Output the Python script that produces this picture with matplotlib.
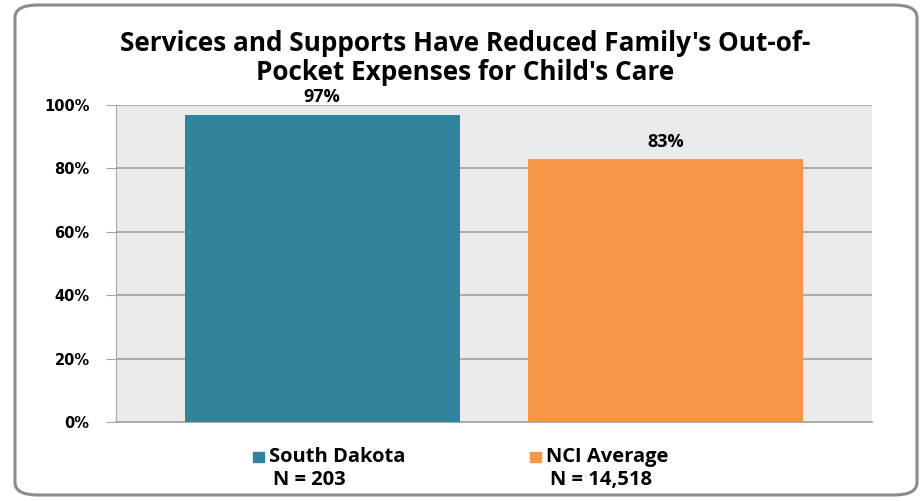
import matplotlib.pyplot as plt
from matplotlib.patches import FancyBboxPatch

# data
groups = ["South Dakota", "NCI Average"]
counts = ["N = 203", "N = 14,518"]
values = [97, 83]
colors = ["#31849B", "#F79646"]
yticks = [0, 20, 40, 60, 80, 100]

title = "Services and Supports Have Reduced Family's Out-of-\nPocket Expenses for Child's Care"

fig = plt.figure(figsize=(9.21, 5.01), dpi=100)

# rounded outer frame
frame = FancyBboxPatch((15 / 921, 6 / 501), 902 / 921, 490 / 501,
                       boxstyle="round,pad=0,rounding_size=0.025",
                       transform=fig.transFigure, facecolor="none",
                       edgecolor="#8C8C8C", linewidth=2.2, zorder=-1)
fig.patches.append(frame)

ax = fig.add_axes([116 / 921, (501 - 422) / 501, 756 / 921, 317 / 501])
ax.set_facecolor("#EBEBEB")

x = range(len(values))
ax.bar(x, values, width=0.8, color=colors, zorder=3)
ax.set_xlim(-0.6, 1.6)
ax.set_ylim(0, 100)

ax.set_yticks(yticks)
ax.set_yticklabels([f"{t}%" for t in yticks], fontfamily="DejaVu Sans",
                   fontweight="bold", fontsize=10.5)
ax.tick_params(axis="y", length=7, color="#A6A6A6", pad=12)
ax.set_xticks([])
ax.grid(axis="y", color="#A6A6A6", linewidth=1.3, zorder=1)
for side in ["top", "right"]:
    ax.spines[side].set_visible(False)
ax.spines["left"].set_color("#A6A6A6")
ax.spines["bottom"].set_color("#A6A6A6")
ax.spines["bottom"].set_linewidth(1.3)

for i, v in enumerate(values):
    ax.text(i, v + 2.6, f"{v}%", ha="center", va="bottom",
            fontfamily="Open Sans", fontweight="bold", fontsize=13)

fig.text(0.505, 0.885, title, ha="center", va="center", fontfamily="Open Sans",
         fontweight="bold", fontsize=18.8, linespacing=1.1)

# legend-style labels under the bars
leg_x = [253, 530]
for i in range(len(groups)):
    fx = leg_x[i] / 921
    fig.patches.append(plt.Rectangle((fx, (501 - 462) / 501), 11 / 921, 10 / 501,
                                     transform=fig.transFigure, color=colors[i]))
    fig.text(fx + 16 / 921, (501 - 457) / 501, groups[i], ha="left", va="center",
             fontfamily="Open Sans", fontweight="bold", fontsize=14.5)
    fig.text(fx + 20 / 921, (501 - 480) / 501, counts[i], ha="left", va="center",
             fontfamily="Open Sans", fontweight="bold", fontsize=14.5)

fig.savefig("out.png", dpi=100)
